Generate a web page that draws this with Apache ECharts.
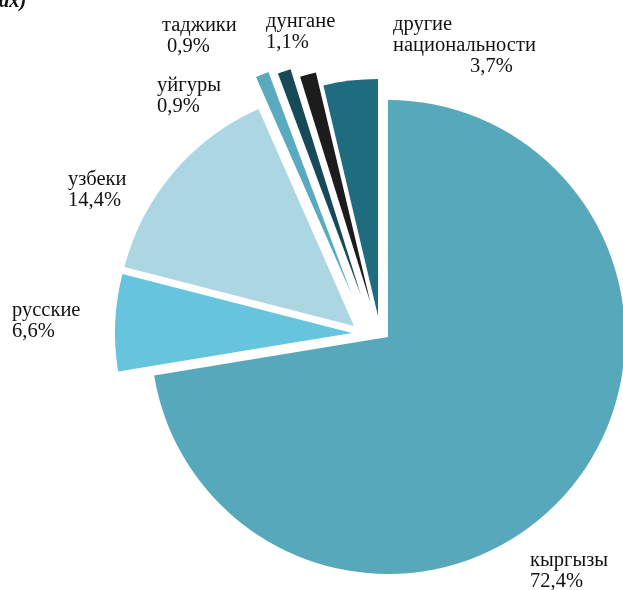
<!DOCTYPE html>
<html>
<head>
<meta charset="utf-8">
<script src="https://cdn.jsdelivr.net/npm/echarts@6/dist/echarts.min.js"></script>
<style>
  html, body { margin: 0; padding: 0; background: #fff; }
  #chart { width: 623px; height: 590px; }
</style>
</head>
<body>
<div id="chart"></div>
<script>
  // данные (в процентах)
  var nations = ['кыргызы', 'русские', 'узбеки', 'уйгуры', 'таджики', 'дунгане', 'другие национальности'];
  var shares = [72.4, 6.6, 14.4, 0.9, 0.9, 1.1, 3.7];

  // оформление
  var colors = ['#58a8bc', '#66c5dd', '#acd7e2', '#59aabf', '#174a59', '#1c1c1c', '#1f6c7e'];
  // центр каждого "выдвинутого" сектора
  var centers = [[388, 337], [352, 333], [354, 326], [351.5, 294], [361, 295.5], [370.5, 303], [378, 316]];
  // положение подписей (левый верхний угол)
  var labelPos = [[530, 550], [12, 300], [68, 169], [157, 75], [162, 15], [266, 11], [393, 14]];
  var FONT = "'Liberation Serif', 'Times New Roman', serif";
  var FS = 20.5;

  function pct(v) {
    return v.toFixed(1).replace('.', ',') + '%';
  }

  function labelText(i) {
    var name = nations[i];
    if (i === 6) {
      return '{n|другие}\n{n|национальности}\n{p|' + pct(shares[i]) + '}';
    }
    if (i === 4) {
      return '{n|' + name + '}\n{q|' + pct(shares[i]) + '}';
    }
    return '{n|' + name + '}\n{n|' + pct(shares[i]) + '}';
  }

  var chart = echarts.init(document.getElementById('chart'));

  var series = nations.map(function (nm, i) {
    return {
      type: 'pie',
      name: nm,
      radius: [0, 237],
      center: centers[i],
      startAngle: 90,
      clockwise: true,
      silent: true,
      avoidLabelOverlap: false,
      minAngle: 0,
      labelLine: { show: false },
      emphasis: { disabled: true },
      labelLayout: function () {
        return { x: labelPos[i][0], y: labelPos[i][1], align: 'left', verticalAlign: 'top' };
      },
      data: nations.map(function (n, j) {
        return {
          name: n,
          value: shares[j],
          itemStyle: { color: j === i ? colors[j] : 'rgba(0,0,0,0)', borderWidth: 0 },
          label: j === i ? {
            show: true,
            position: 'outside',
            formatter: labelText(j),
            color: '#111',
            fontFamily: FONT,
            fontSize: FS,
            lineHeight: 21,
            align: 'left',
            rich: {
              n: { fontFamily: FONT, fontSize: FS, lineHeight: 21, color: '#111' },
              q: { fontFamily: FONT, fontSize: FS, lineHeight: 21, color: '#111', padding: [0, 0, 0, 5] },
              p: { fontFamily: FONT, fontSize: FS, lineHeight: 21, color: '#111', padding: [0, 0, 0, 77] }
            }
          } : { show: false }
        };
      })
    };
  });

  chart.setOption({
    animation: false,
    title: {
      text: 'ах)',
      left: -1,
      top: -8,
      padding: 0,
      textStyle: { fontFamily: FONT, fontSize: FS, fontStyle: 'italic', fontWeight: 'bold', color: '#111' }
    },
    series: series
  });
</script>
</body>
</html>
